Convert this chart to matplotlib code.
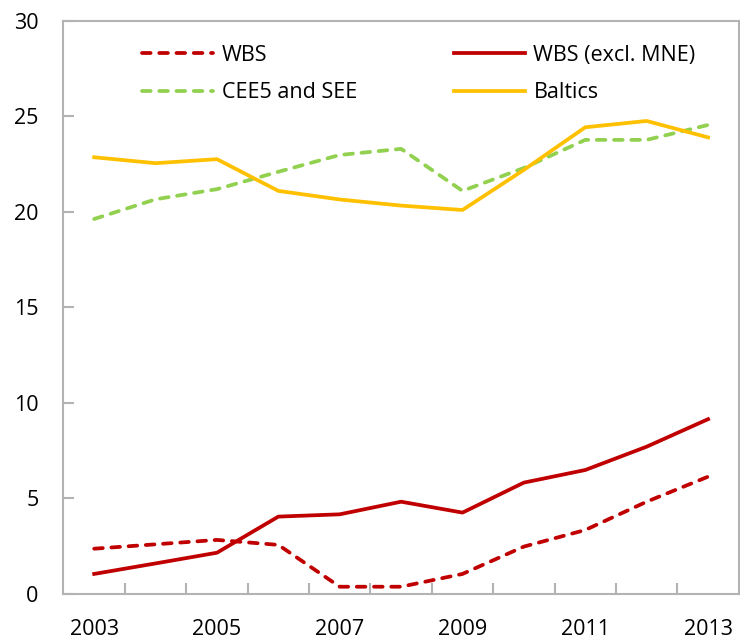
import matplotlib
matplotlib.use('Agg')
import matplotlib.pyplot as plt
import numpy as np

plt.rcParams['font.family'] = ['Open Sans', 'DejaVu Sans']

YEARS = ['2003', '2004', '2005', '2006', '2007', '2008', '2009', '2010', '2011', '2012', '2013']
WBS = [2.37, 2.6, 2.83, 2.57, 0.38, 0.38, 1.05, 2.48, 3.35, 4.83, 6.14]
WBS_EXCL_MNE = [1.05, 1.6, 2.16, 4.05, 4.17, 4.83, 4.26, 5.83, 6.49, 7.71, 9.15]
CEE5_SEE = [19.63, 20.66, 21.19, 22.1, 22.98, 23.3, 21.1, 22.3, 23.77, 23.77, 24.55]
BALTICS = [22.86, 22.55, 22.76, 21.1, 20.65, 20.33, 20.1, 22.2, 24.43, 24.76, 23.9]

RED = '#C00000'
GREEN = '#92D050'
YELLOW = '#FFC000'
GREY = '#B3B3B3'

fig = plt.figure(figsize=(7.4, 6.4), dpi=100)
ax = fig.add_axes([0.0858, 0.0719, 0.9125, 0.8955])

x = np.arange(len(YEARS))
lw = 2.7
dash = dict(dashes=(2.3, 2.3), dash_capstyle='round')
l1, = ax.plot(x, WBS, color=RED, lw=lw, label='WBS', **dash)
l2, = ax.plot(x, CEE5_SEE, color=GREEN, lw=lw, label='CEE5 and SEE', **dash)
l3, = ax.plot(x, WBS_EXCL_MNE, color=RED, lw=lw, label='WBS (excl. MNE)')
l4, = ax.plot(x, BALTICS, color=YELLOW, lw=lw, label='Baltics')

ax.set_xlim(-0.5, len(YEARS) - 0.5)
ax.set_ylim(0, 30)
ax.set_yticks(range(0, 31, 5))
ax.set_xticks(x[::2])
ax.set_xticklabels(YEARS[::2])
ax.set_xticks(np.arange(0.5, len(YEARS) - 1, 1), minor=True)

ax.tick_params(axis='x', which='major', length=0, pad=18, labelsize=15.5)
ax.tick_params(axis='x', which='minor', direction='in', length=8, width=1.5, color=GREY)
ax.tick_params(axis='y', direction='in', length=8, width=1.5, color=GREY, pad=18, labelsize=15.5)

for s in ax.spines.values():
    s.set_color(GREY)
    s.set_linewidth(1.5)

fig.legend(handles=[l1, l2, l3, l4], ncol=2, loc='upper left',
           bbox_to_anchor=(142 / 740, 1 - 45 / 640), frameon=False,
           fontsize=15.5, handlelength=3.3, handletextpad=0.4,
           columnspacing=4.5, labelspacing=0.75, borderpad=0, borderaxespad=0)

fig.savefig('out.png', dpi=100)
plt.close()
